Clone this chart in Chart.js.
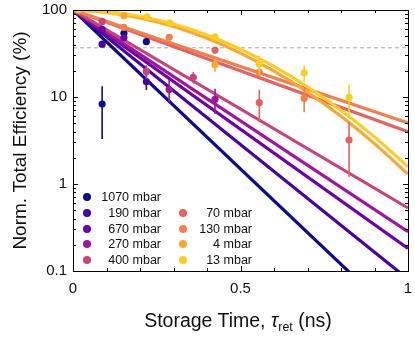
<!DOCTYPE html>
<html><head><meta charset="utf-8">
<script src="https://cdn.jsdelivr.net/npm/chart.js@4.4.1/dist/chart.umd.min.js"></script>
<style>
html,body{margin:0;padding:0;background:#fff;}
#wrap{position:relative;width:415px;height:339px;overflow:hidden;font-family:'Liberation Sans',Arial,sans-serif;}
#c{position:absolute;left:0;top:0;}
.xt{position:absolute;left:0;width:476px;top:309px;text-align:center;font-size:19.5px;color:#111;white-space:nowrap;line-height:22px;}
.xt sub{font-size:12.5px;vertical-align:-4px;line-height:0;}
.lg{position:absolute;font-size:12.5px;color:#111;white-space:nowrap;line-height:14px;}
.lg .dot{position:absolute;width:8px;height:8px;border-radius:50%;top:3px;}
.lg .txt{position:absolute;text-align:right;top:0;}
</style></head>
<body><div id="wrap"><canvas id="c" width="415" height="339"></canvas>
<div class="xt">Storage Time, <i>τ</i><sub>ret</sub> (ns)</div>
<div id="legend"></div>
</div>
<script>
// ---- series ----
const seriesNames = ['1070 mbar','190 mbar','670 mbar','270 mbar','400 mbar','70 mbar','130 mbar','4 mbar','13 mbar'];
const seriesColors = ['#0f0a8a','#46049f','#6e00a8','#9c179e','#c8437b','#e16462','#f0804f','#fca636','#fcce25'];

// ---- measured points (time in ns, efficiency in %, error in %) ----
const t1070 = [0.016, 0.087, 0.152, 0.219];
const v1070 = [100, 8.3, 54, 43.3];
const e1070 = [0, 5, 3, 3];
const t190 = [0.016, 0.087, 0.219];
const v190 = [100, 40.5, 15];
const e190 = [0, 2, 3];
const t670 = [0.016, 0.087, 0.152];
const v670 = [100, 60, 48];
const e670 = [0, 3, 3];
const t270 = [0.016, 0.287, 0.424];
const v270 = [100, 12.2, 9.4];
const e270 = [0, 3.5, 3];
const t400 = [0.016, 0.087, 0.219, 0.359];
const v400 = [100, 74, 19.7, 16.8];
const e400 = [0, 5, 3.5, 2.5];
const t70 = [0.016, 0.424, 0.556, 0.824];
const v70 = [100, 34.6, 8.6, 3.2];
const e70 = [0, 3, 3.5, 2];
const t130 = [0.016, 0.152, 0.287, 0.556, 0.69];
const v130 = [100, 63, 48.5, 19.2, 9.7];
const e130 = [0, 2, 3, 2, 3];
const t4 = [0.016, 0.152, 0.424];
const v4 = [100, 86, 23.5];
const e4 = [0, 2, 4];
const t13 = [0.016, 0.052, 0.087, 0.121, 0.221, 0.289, 0.424, 0.556, 0.69, 0.824];
const v13 = [100, 104, 98, 95, 83.5, 71, 49, 24, 19, 9.9];
const e13 = [0, 0, 0, 0, 2, 2, 3, 6, 4, 4];

// ---- fitted curves ----
const fitTimes = [0, 1];
const fit1070 = [100, 0.0222];
const fit190 = [100, 0.0807];
const fit670 = [100, 0.182];
const fit270 = [100, 0.283];
const fit400 = [100, 0.530];
const fit70 = [100, 3.99];
const fit130 = [100, 5.02];
const curveTimes = [0, 0.1, 0.2, 0.3, 0.4, 0.5, 0.6, 0.7, 0.8, 0.9, 1.0];
const fit4 = [100, 93.8, 81.0, 64.5, 47.3, 31.9, 19.8, 11.4, 6.0, 2.91, 1.30];
const fit13 = [100, 95.9, 84.7, 68.9, 51.5, 35.5, 22.5, 13.1, 7.05, 3.48, 1.58];

const oneOverE = 36.79;
const xTicks = [0, 0.5, 1];
const yTicks = [0.1, 1, 10, 100];

const pointSets = [[t1070,v1070,e1070],[t190,v190,e190],[t670,v670,e670],[t270,v270,e270],[t400,v400,e400],
                   [t70,v70,e70],[t130,v130,e130],[t4,v4,e4],[t13,v13,e13]];
const fitSets = [[fitTimes,fit1070],[fitTimes,fit190],[fitTimes,fit670],[fitTimes,fit270],[fitTimes,fit400],
                 [fitTimes,fit70],[fitTimes,fit130],[curveTimes,fit4],[curveTimes,fit13]];

const zip = (xs, ys) => xs.map((x,i)=>({x, y: ys[i]}));

const datasets = [];
datasets.push({type:'line', data: zip([0,1],[oneOverE,oneOverE]), borderColor:'#aaaaaa', borderWidth:1,
  borderDash:[4,3], pointRadius:0, order:100});
fitSets.forEach((f,i)=>{
  datasets.push({type:'line', data: zip(f[0], f[1]), borderColor: seriesColors[i], borderWidth:3.2,
    pointRadius:0, tension:0, cubicInterpolationMode: i>=7 ? 'monotone':'default', order: 50 - i});
});
pointSets.forEach((p,i)=>{
  datasets.push({type:'line', showLine:false, data: zip(p[0], p[1]), errors: p[2],
    backgroundColor: seriesColors[i], borderColor: seriesColors[i], pointRadius:3.6, pointBorderWidth:0,
    pointHoverRadius:3.6, order: 20 - i});
});

const errorBars = {
  id:'errorBars',
  beforeDatasetDraw(chart, args){
    const ds = chart.data.datasets[args.index];
    if (!ds.errors) return;
    const xs = chart.scales.x, ys = chart.scales.y, ctx = chart.ctx, a = chart.chartArea;
    ctx.save();
    ctx.beginPath(); ctx.rect(a.left, a.top, a.right-a.left, a.bottom-a.top); ctx.clip();
    ctx.strokeStyle = ds.borderColor; ctx.lineWidth = 1.6;
    ds.data.forEach((pt,k)=>{
      const e = ds.errors[k]; if (!e) return;
      const px = xs.getPixelForValue(pt.x);
      const lo = Math.max(pt.y - e, 0.01);
      ctx.beginPath(); ctx.moveTo(px, ys.getPixelForValue(pt.y + e)); ctx.lineTo(px, ys.getPixelForValue(lo)); ctx.stroke();
    });
    ctx.restore();
  }
};

const frameTicks = {
  id:'frameTicks',
  afterDraw(chart){
    const ctx = chart.ctx, a = chart.chartArea, xs = chart.scales.x, ys = chart.scales.y;
    ctx.save(); ctx.strokeStyle = '#000'; ctx.lineWidth = 1;
    const seg = (x1,y1,x2,y2)=>{ctx.beginPath();ctx.moveTo(x1,y1);ctx.lineTo(x2,y2);ctx.stroke();};
    for (let i=0;i<=10;i++){
      const px = Math.round(xs.getPixelForValue(i/10)) + 0.5;
      const L = (i%5===0) ? 5 : 3;
      seg(px, a.bottom, px, a.bottom - L); seg(px, a.top, px, a.top + L);
    }
    [0.1,1,10].forEach(d=>{
      for (let m=1;m<=10;m++){
        const v = d*m; const py = Math.round(ys.getPixelForValue(v)) + 0.5;
        const L = (m===1||m===10) ? 5 : 3;
        seg(a.left, py, a.left + L, py); seg(a.right, py, a.right - L, py);
      }
    });
    ctx.strokeRect(Math.round(a.left)+0.5, Math.round(a.top)+0.5, Math.round(a.right-a.left), Math.round(a.bottom-a.top));
    ctx.restore();
  }
};

const font = {family:"'Liberation Sans', Arial, sans-serif", size:15};
new Chart(document.getElementById('c'), {
  type:'line',
  data:{datasets},
  options:{
    responsive:false, animation:false, events:[],
    layout:{padding:{top:10, right:7, left:0, bottom:0}},
    plugins:{legend:{display:false}, tooltip:{enabled:false}},
    scales:{
      x:{type:'linear', min:0, max:1,
        afterFit(s){ s.height = 68; s.paddingLeft = 0; s.paddingRight = 0; },
        afterBuildTicks(s){ s.ticks = xTicks.map(v=>({value:v})); },
        ticks:{font, color:'#111', padding:9, maxRotation:0, autoSkip:false,
          callback:(v)=> String(v)},
        grid:{display:false, drawTicks:false}, border:{display:false}},
      y:{type:'logarithmic', min:0.1, max:100,
        afterFit(s){ s.width = 73; s.paddingTop = 0; s.paddingBottom = 0; },
        afterBuildTicks(s){ s.ticks = yTicks.map(v=>({value:v})); },
        ticks:{font, color:'#111', padding:6, autoSkip:false,
          callback:(v)=> String(v)},
        title:{display:true, text:'Norm. Total Efficiency (%)', color:'#111',
          font:{family:"'Liberation Sans', Arial, sans-serif", size:19}, padding:{top:9,bottom:0}},
        grid:{display:false, drawTicks:false}, border:{display:false}}
    }
  },
  plugins:[errorBars, frameTicks]
});

// ---- legend (two columns, right-aligned labels) ----
const legendRows = [[0,null],[1,5],[2,6],[3,7],[4,8]];
const rowY = [197, 213, 228.5, 244, 260];
const lg = document.getElementById('legend');
legendRows.forEach((r,k)=>{
  [[r[0], 86.7, 161],[r[1], 183.3, 252]].forEach(([idx, mx, tx])=>{
    if (idx===null) return;
    const d = document.createElement('div'); d.className='lg';
    d.style.left='0px'; d.style.top=(rowY[k]-7)+'px';
    d.innerHTML = `<span class="dot" style="left:${mx-4}px;background:${seriesColors[idx]}"></span>`+
      `<span class="txt" style="right:${415-tx}px;left:auto;width:80px;position:absolute;">${seriesNames[idx]}</span>`;
    d.style.width='415px'; d.style.height='14px';
    lg.appendChild(d);
  });
});
</script></body></html>
